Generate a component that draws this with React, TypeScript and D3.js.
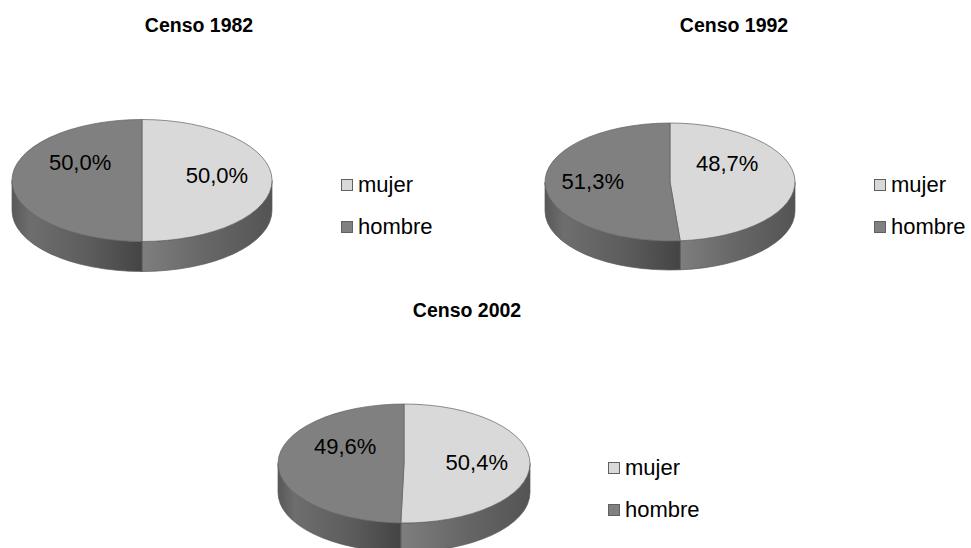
import React from "react";
import * as d3 from "d3";

// datos de los tres censos (porcentajes)
const censos = ["Censo 1982", "Censo 1992", "Censo 2002"];
const categorias = ["mujer", "hombre"];
const mujer = [50.0, 48.7, 50.4];
const hombre = [50.0, 51.3, 49.6];

const topColors = ["#d9d9d9", "#808080"];
const sideStops = [
  [["0%", "#7e7e7e"], ["45%", "#686868"], ["100%", "#545454"]],
  [["0%", "#585858"], ["14%", "#6e6e6e"], ["60%", "#5c5c5c"], ["100%", "#444444"]],
];

// posicion de cada grafico (pixeles)
const layout = [
  { cx: 142, cy: 180.5, rx: 130, ry: 61, depth: 30, titleX: 199, titleY: 32, legendX: 341, legendY: 192, nudge: [[6, -5.5], [7, -18.5]] },
  { cx: 670, cy: 182, rx: 125, ry: 59, depth: 29, titleX: 734, titleY: 32, legendX: 874, legendY: 192, nudge: [[-9, -17], [-11, -2]] },
  { cx: 404, cy: 463.5, rx: 126, ry: 59.5, depth: 29, titleX: 467, titleY: 317, legendX: 608, legendY: 475, nudge: [[6, -2], [8, -17]] },
];

const font = "'Liberation Sans', Arial, sans-serif";
const fmt = (v: number) => v.toFixed(1).replace(".", ",") + "%";

const Pie3D = ({ idx }: { idx: number }) => {
  const L = layout[idx];
  const values = [mujer[idx], hombre[idx]];
  const arcs = d3.pie<number>().sort(null).value((d) => d)(values);
  const pt = (t: number, dy = 0): [number, number] => [
    L.cx + L.rx * Math.sin(t),
    L.cy - L.ry * Math.cos(t) + dy,
  ];

  const sides = arcs.map((a, i) => {
    const t0 = Math.max(a.startAngle, Math.PI / 2);
    const t1 = Math.min(a.endAngle, (3 * Math.PI) / 2);
    if (t1 <= t0) return null;
    const p0 = pt(t0), p1 = pt(t1), q1 = pt(t1, L.depth), q0 = pt(t0, L.depth);
    const large = t1 - t0 > Math.PI ? 1 : 0;
    const d = `M${p0[0]},${p0[1]} A${L.rx},${L.ry} 0 ${large} 1 ${p1[0]},${p1[1]} L${q1[0]},${q1[1]} A${L.rx},${L.ry} 0 ${large} 0 ${q0[0]},${q0[1]} Z`;
    const xs = [p0[0], p1[0]];
    return { d, i, x1: Math.min(...xs), x2: Math.max(...xs) };
  });

  const tops = arcs.map((a) => {
    const p0 = pt(a.startAngle), p1 = pt(a.endAngle);
    const large = a.endAngle - a.startAngle > Math.PI ? 1 : 0;
    return `M${L.cx},${L.cy} L${p0[0]},${p0[1]} A${L.rx},${L.ry} 0 ${large} 1 ${p1[0]},${p1[1]} Z`;
  });

  return (
    <g>
      <defs>
        {sides.map((s) =>
          s ? (
            <linearGradient key={s.i} id={`side-${idx}-${s.i}`} gradientUnits="userSpaceOnUse" x1={s.x1} x2={s.x2} y1={0} y2={0}>
              {sideStops[s.i].map(([o, c]) => (
                <stop key={o} offset={o} stopColor={c} />
              ))}
            </linearGradient>
          ) : null
        )}
      </defs>
      <text x={L.titleX} y={L.titleY} textAnchor="middle" fontFamily={font} fontWeight="bold" fontSize={19.5}>
        {censos[idx]}
      </text>
      {sides.map((s) =>
        s ? <path key={s.i} d={s.d} fill={`url(#side-${idx}-${s.i})`} stroke="#5a5a5a" strokeWidth={0.7} /> : null
      )}
      {tops.map((d, i) => (
        <path key={i} d={d} fill={topColors[i]} stroke="#606060" strokeWidth={0.7} />
      ))}
      {arcs.map((a, i) => {
        const mid = (a.startAngle + a.endAngle) / 2;
        const [x, y] = [L.cx + 0.53 * L.rx * Math.sin(mid), L.cy - 0.53 * L.ry * Math.cos(mid)];
        return (
          <text key={i} x={x + L.nudge[i][0]} y={y + L.nudge[i][1]} dy="0.35em" textAnchor="middle" fontFamily={font} fontSize={22} fill="#000">
            {fmt(values[i])}
          </text>
        );
      })}
      {categorias.map((c, i) => (
        <g key={c} transform={`translate(${L.legendX},${L.legendY + i * 42})`}>
          <rect x={0.5} y={-12.5} width={11} height={11} fill={topColors[i]} stroke="#606060" strokeWidth={1} />
          <text x={17} y={0} fontFamily={font} fontSize={22} fill="#000">
            {c}
          </text>
        </g>
      ))}
    </g>
  );
};

export default function App() {
  return (
    <svg width={971} height={548} style={{ position: "absolute", left: 0, top: 0, background: "#fff" }}>
      <rect width={971} height={548} fill="#fff" />
      {censos.map((_, i) => (
        <Pie3D key={i} idx={i} />
      ))}
    </svg>
  );
}
